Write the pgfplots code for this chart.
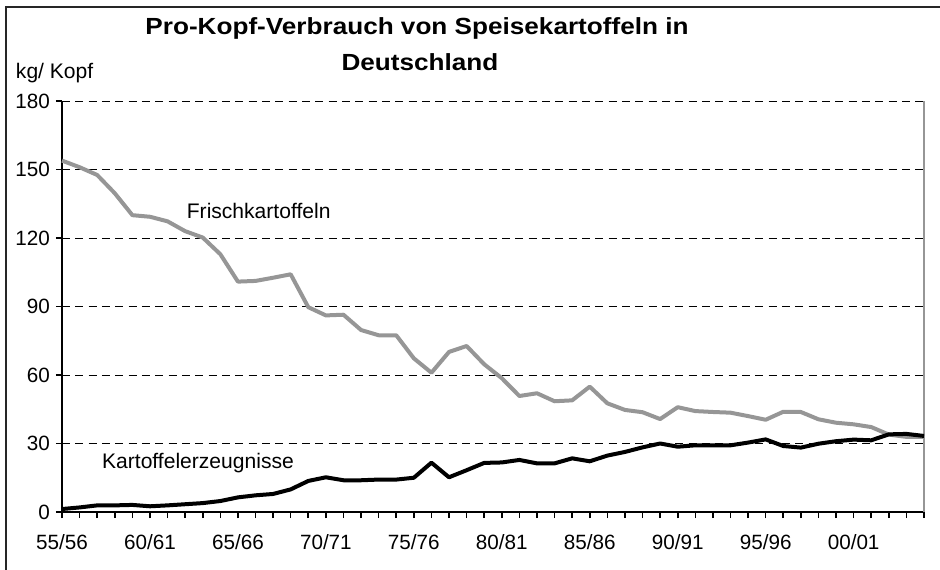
\documentclass[border=0pt]{standalone}
\usepackage{pgfplots}
\pgfplotsset{compat=1.18}
\usepackage{fontspec}
\setmainfont{Liberation Sans}
\newfontfamily\titlefont[FakeStretch=1.12]{Liberation Sans}
\definecolor{lgray}{RGB}{150,150,150}
\begin{document}
\begin{tikzpicture}
\useasboundingbox (0,0) rectangle (705pt,-427.5pt);
\draw[line width=1.2pt,black!85] (4.5pt,-430pt) -- (4.5pt,-5.25pt) -- (710pt,-5.25pt);
\node[font=\titlefont\bfseries\fontsize{17.5}{20}\selectfont] at (312.75pt,-21pt) {Pro-Kopf-Verbrauch von Speisekartoffeln in};
\node[font=\titlefont\bfseries\fontsize{17.5}{20}\selectfont] at (315pt,-46.5pt) {Deutschland};
\node[anchor=west,font=\fontsize{15.8}{18}\selectfont,inner sep=0pt] at (11.8pt,-54.75pt) {kg/ Kopf};
\begin{axis}[
  at={(46.5pt,-384pt)}, anchor=origin,
  scale only axis, width=646.5pt, height=308.25pt,
  xmin=0, xmax=49, ymin=0, ymax=180,
  axis x line*=bottom, axis y line*=left,
  axis line style={line width=1.5pt,-},
  xtick={0,5,...,45},
  xticklabels={55/56,60/61,65/66,70/71,75/76,80/81,85/86,90/91,95/96,00/01},
  minor xtick={0,1,...,49},
  ytick={0,30,...,180},
  tick align=outside,
  major tick length=4.5pt, minor tick length=4.5pt,
  every tick/.style={black,line width=1.2pt},
  ymajorgrids,
  grid style={black,line width=0.6pt,dash pattern=on 6pt off 4pt},
  tick label style={font=\fontsize{15.5}{18}\selectfont},
  /pgf/number format/assume math mode=true,
  xticklabel style={yshift=-9pt},
  yticklabel style={xshift=-1pt},
  clip=false,
]
\draw[lgray,line width=1pt] (rel axis cs:1,0) -- (rel axis cs:1,1);
\addplot[lgray,line width=3pt,line join=round] coordinates {
(0,153.9)(1,151.0)(2,147.6)(3,139.6)(4,130.0)(5,129.3)(6,127.3)(7,123.0)(8,120.2)(9,112.9)
(10,100.9)(11,101.2)(12,102.6)(13,104.1)(14,89.7)(15,86.1)(16,86.4)(17,79.7)(18,77.4)(19,77.4)
(20,67.3)(21,61.0)(22,70.1)(23,72.7)(24,64.7)(25,58.6)(26,50.8)(27,52.0)(28,48.5)(29,48.9)
(30,54.9)(31,47.6)(32,44.7)(33,43.7)(34,40.7)(35,45.9)(36,44.2)(37,43.8)(38,43.5)(39,42.0)
(40,40.4)(41,43.9)(42,43.8)(43,40.6)(44,39.1)(45,38.4)(46,37.2)(47,33.9)(48,32.9)(49,32.9)
};
\addplot[black,line width=3pt,line join=round] coordinates {
(0,1.3)(1,2.0)(2,2.9)(3,2.9)(4,3.1)(5,2.5)(6,2.9)(7,3.4)(8,3.9)(9,4.8)
(10,6.4)(11,7.3)(12,7.9)(13,9.9)(14,13.6)(15,15.2)(16,13.9)(17,13.9)(18,14.2)(19,14.2)
(20,15.0)(21,21.6)(22,15.2)(23,18.3)(24,21.5)(25,21.7)(26,22.8)(27,21.3)(28,21.3)(29,23.5)
(30,22.2)(31,24.7)(32,26.3)(33,28.3)(34,30.0)(35,28.6)(36,29.2)(37,29.2)(38,29.2)(39,30.4)
(40,31.8)(41,28.9)(42,28.2)(43,29.9)(44,31.0)(45,31.7)(46,31.4)(47,34.0)(48,34.2)(49,33.3)
};
\node[font=\fontsize{15.8}{18}\selectfont] at (axis cs:11.18,132) {Frischkartoffeln};
\node[font=\fontsize{15.8}{18}\selectfont] at (axis cs:7.73,21.3) {Kartoffelerzeugnisse};
\end{axis}
\end{tikzpicture}
\end{document}
